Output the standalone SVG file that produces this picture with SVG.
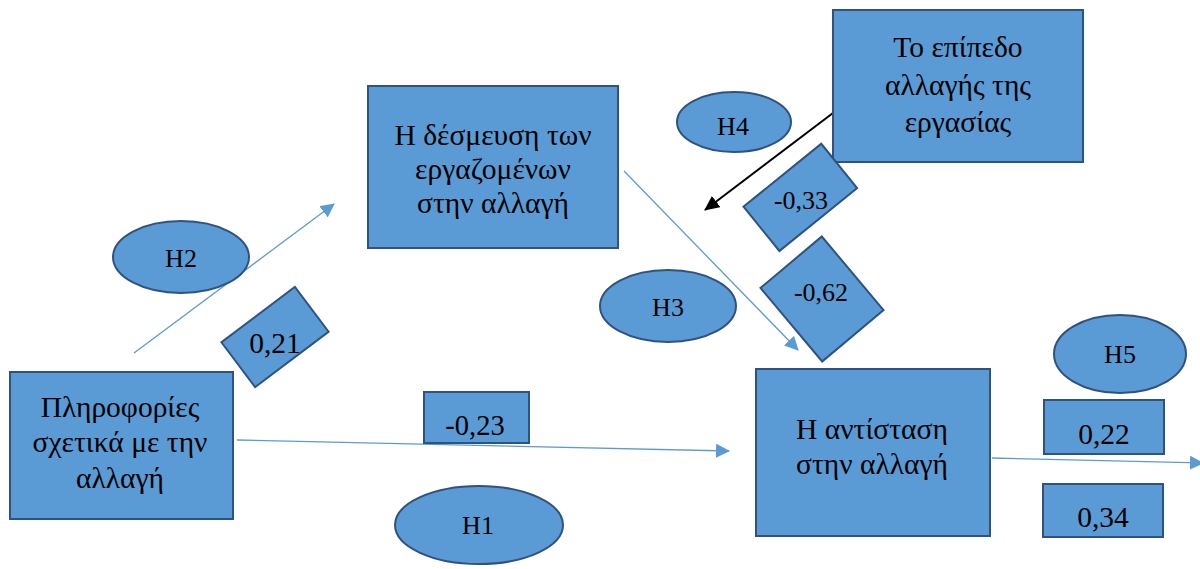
<svg xmlns="http://www.w3.org/2000/svg" width="1200" height="569" viewBox="0 0 1200 569">
<style>
.n{fill:#5B9BD5;stroke:#2F5281;stroke-width:2}
.t{font-family:"Liberation Serif","DejaVu Serif",serif;font-size:29.5px;fill:#000;text-anchor:middle}
.v{font-family:"Liberation Serif","DejaVu Serif",serif;font-size:28.5px;fill:#000;text-anchor:middle}
.h{font-family:"Liberation Serif","DejaVu Serif",serif;font-size:26px;fill:#000;text-anchor:middle}
.c{stroke:#5B9BD5;stroke-width:1.3;fill:none;marker-end:url(#ab)}
</style>
<defs>
<marker id="ab" markerWidth="14" markerHeight="14" refX="13" refY="7" orient="auto" markerUnits="userSpaceOnUse" viewBox="0 0 14 14"><path d="M0,0L14,7L0,14Z" fill="#5B9BD5"/></marker>
<marker id="ak" markerWidth="15" markerHeight="14" refX="14" refY="7" orient="auto" markerUnits="userSpaceOnUse" viewBox="0 0 15 14"><path d="M0,0L15,7L0,14Z" fill="#000"/></marker>
</defs>
<rect width="1200" height="569" fill="#fff"/>
<g id="connectors">
<line class="c" x1="134" y1="353" x2="334" y2="204"/>
<line class="c" x1="624" y1="171" x2="798" y2="350"/>
<line class="c" x1="237" y1="440" x2="729" y2="451"/>
<line class="c" x1="992" y1="458" x2="1203" y2="463"/>
<line x1="833" y1="113" x2="705" y2="210" stroke="#000" stroke-width="2" marker-end="url(#ak)"/>
</g>
<g id="info"><rect class="n" x="10" y="372" width="223" height="147"/>
<text class="t" x="120" y="417">Πληροφορίες</text><text class="t" x="120" y="452">σχετικά με την</text><text class="t" x="120" y="488">αλλαγή</text></g>
<g id="commit"><rect class="n" x="368" y="86" width="250" height="162"/>
<text class="t" x="493" y="145">Η δέσμευση των</text><text class="t" x="493" y="179">εργαζομένων</text><text class="t" x="493" y="213">στην αλλαγή</text></g>
<g id="level"><rect class="n" x="833" y="10" width="250" height="152"/>
<text class="t" x="958" y="57">Το επίπεδο</text><text class="t" x="958" y="95">αλλαγής της</text><text class="t" x="958" y="132">εργασίας</text></g>
<g id="resist"><rect class="n" x="756" y="369" width="234" height="167"/>
<text class="t" x="872" y="439">Η αντίσταση</text><text class="t" x="872" y="474">στην αλλαγή</text></g>
<g id="h2"><ellipse class="n" cx="181" cy="257" rx="68" ry="36"/><text class="h" x="181" y="267">H2</text></g>
<g id="h4"><ellipse class="n" cx="734" cy="122" rx="57" ry="30"/><text class="h" x="733" y="135">H4</text></g>
<g id="h3"><ellipse class="n" cx="668" cy="306" rx="68" ry="36"/><text class="h" x="668" y="316">H3</text></g>
<g id="h5"><ellipse class="n" cx="1120" cy="354" rx="66" ry="39"/><text class="h" x="1120" y="363">H5</text></g>
<g id="h1"><ellipse class="n" cx="479" cy="525" rx="84" ry="39"/><text class="h" x="478" y="534">H1</text></g>
<g id="w021"><rect class="n" x="-46" y="-28" width="92" height="56" transform="translate(275,337) rotate(-37)"/><text class="t" x="275" y="353">0,21</text></g>
<g id="w033"><rect class="n" x="-50" y="-28" width="100" height="57" transform="translate(800,197) rotate(-39)"/><text class="h" x="801" y="209">-0,33</text></g>
<g id="w062"><rect class="n" x="-40" y="-48" width="80" height="96" transform="translate(822,299) rotate(-40)"/><text class="h" x="821" y="301">-0,62</text></g>
<g id="w023"><rect class="n" x="424" y="392" width="105" height="51"/><text class="v" x="475" y="435">-0,23</text></g>
<g id="w022"><rect class="n" x="1044" y="400" width="120" height="54"/><text class="t" x="1104" y="444">0,22</text></g>
<g id="w034"><rect class="n" x="1043" y="484" width="120" height="53"/><text class="t" x="1103" y="527">0,34</text></g>
</svg>
